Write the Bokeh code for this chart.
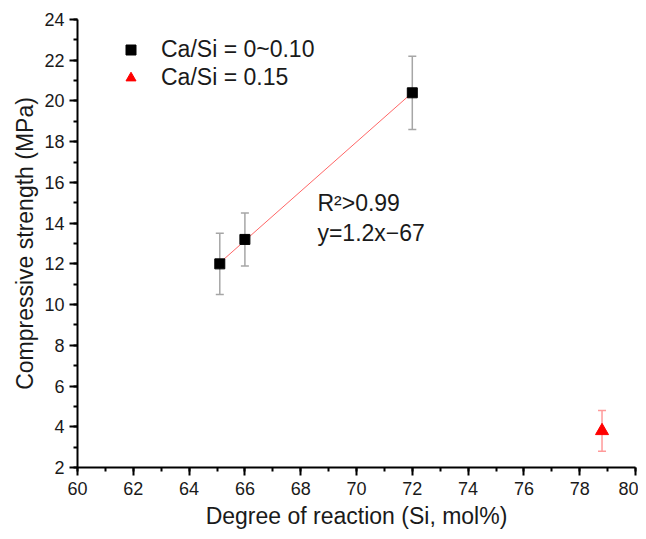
import numpy as np
from bokeh.plotting import figure
from bokeh.models import (ColumnDataSource, Whisker, TeeHead, Range1d, Legend,
                          LegendItem, SingleIntervalTicker)
from bokeh.core.properties import value
from bokeh.embed import file_html
from bokeh.resources import INLINE

FONT = "Liberation Sans"

# datos
dor_low = [65.1, 66.0, 72.0]          # Ca/Si = 0~0.10
cs_low = [12.0, 13.2, 20.4]
err_low = [1.5, 1.3, 1.8]

dor_high = [78.8]                     # Ca/Si = 0.15
cs_high = [3.8]
err_high = [1.0]

# ajuste lineal sobre la serie Ca/Si = 0~0.10
slope, intercept = np.polyfit(dor_low, cs_low, 1)
fit_x = [min(dor_low), max(dor_low)]
fit_y = [slope * v + intercept for v in fit_x]

fit_text = ["R\u00b2>0.99", "y=1.2x\u221267"]
fit_text_x = [68.6, 68.6]
fit_text_y = [14.98, 13.5]

src_low = ColumnDataSource(data=dict(
    x=dor_low, y=cs_low,
    lo=[a - b for a, b in zip(cs_low, err_low)],
    hi=[a + b for a, b in zip(cs_low, err_low)]))
src_high = ColumnDataSource(data=dict(
    x=dor_high, y=cs_high,
    lo=[a - b for a, b in zip(cs_high, err_high)],
    hi=[a + b for a, b in zip(cs_high, err_high)]))

p = figure(width=638, height=531, output_backend="svg", toolbar_location=None,
           x_range=Range1d(60, 80), y_range=Range1d(2, 24),
           min_border_left=77, min_border_right=3, min_border_top=19,
           min_border_bottom=64, background_fill_color="white",
           border_fill_color="white")
p.outline_line_color = None
p.grid.visible = False

# barras de error
for src, col in ((src_low, "#a6a6a6"), (src_high, "#ff9a9a")):
    w = Whisker(source=src, base="x", lower="lo", upper="hi",
                line_color=col, line_width=1.5,
                upper_head=TeeHead(size=8, line_color=col, line_width=1.5),
                lower_head=TeeHead(size=8, line_color=col, line_width=1.5))
    p.add_layout(w)

# recta de ajuste
p.line(fit_x, fit_y, line_color="#ff6666", line_width=1)

r_low = p.scatter("x", "y", source=src_low, marker="square", size=10,
                  fill_color="black", line_color="black")
r_high = p.scatter("x", "y", source=src_high, marker="triangle", size=13,
                   fill_color="red", line_color="red")

p.text(fit_text_x, fit_text_y, text=fit_text, text_font=value(FONT),
       text_font_size="23px", text_color="#1a1a1a", text_baseline="alphabetic")

legend = Legend(items=[LegendItem(label="Ca/Si = 0~0.10", renderers=[r_low]),
                       LegendItem(label="Ca/Si = 0.15", renderers=[r_high])],
                location=(41, 376), border_line_color=None,
                background_fill_alpha=0, padding=0, margin=0, spacing=1,
                glyph_width=25, glyph_height=25, label_standoff=18,
                label_text_font=FONT, label_text_font_size="23px",
                label_text_color="#1a1a1a")
p.add_layout(legend)

p.xaxis.ticker = SingleIntervalTicker(interval=2, num_minor_ticks=2)
p.yaxis.ticker = SingleIntervalTicker(interval=2, num_minor_ticks=2)
p.xaxis.axis_label = "Degree of reaction (Si, mol%)"
p.yaxis.axis_label = "Compressive strength (MPa)"

for ax in (p.xaxis, p.yaxis):
    ax.axis_line_width = 2
    ax.axis_line_color = "black"
    ax.major_tick_line_width = 2
    ax.minor_tick_line_width = 2
    ax.major_tick_in = 0
    ax.major_tick_out = 8
    ax.minor_tick_in = 0
    ax.minor_tick_out = 4
    ax.major_label_text_font = FONT
    ax.major_label_text_font_size = "18px"
    ax.major_label_text_color = "#1a1a1a"
    ax.axis_label_text_font = FONT
    ax.axis_label_text_font_size = "23px"
    ax.axis_label_text_font_style = "normal"
    ax.axis_label_text_color = "#1a1a1a"

p.xaxis.major_label_standoff = 6
p.xaxis.axis_label_standoff = 5
p.yaxis.major_label_standoff = 5
p.yaxis.axis_label_standoff = 3

open("out.html", "w").write(file_html(p, INLINE))
